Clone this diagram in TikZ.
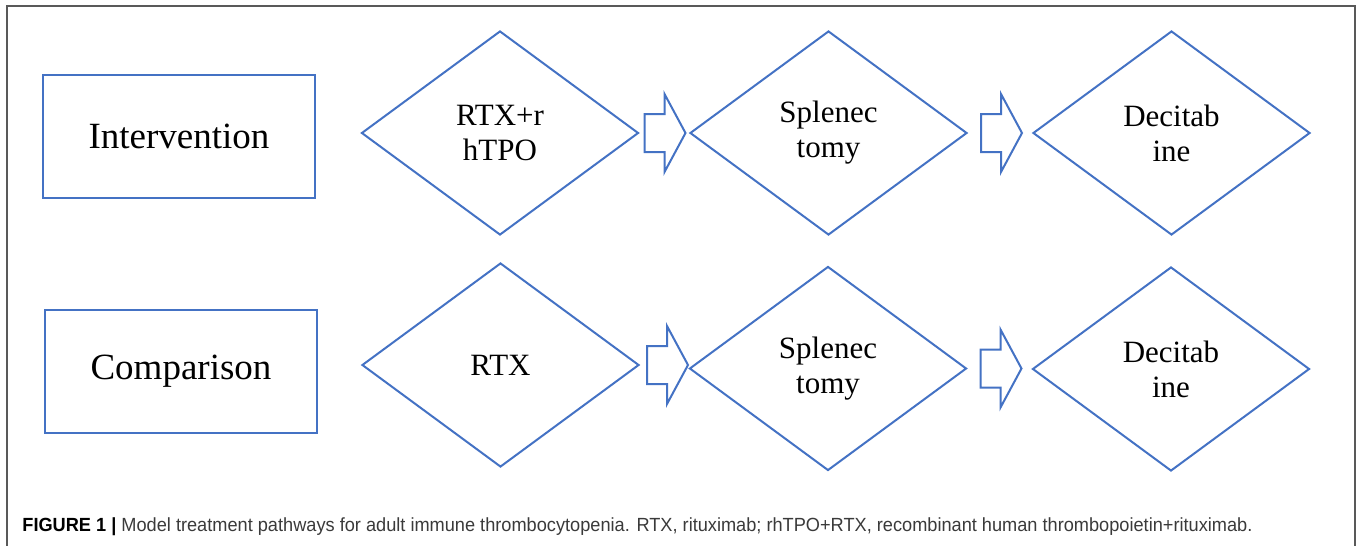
\documentclass[tikz,border=0pt]{standalone}
\usepackage{fontspec}
\setmainfont{Liberation Serif}
\newfontfamily\capfont{Liberation Sans}
\usetikzlibrary{shapes.geometric,calc}
\definecolor{boxblue}{HTML}{4472C4}
\definecolor{framegray}{HTML}{595959}
\definecolor{captext}{HTML}{3A3A3A}

\begin{document}
\begin{tikzpicture}[x=0.5pt,y=-0.5pt,
	group/.style={draw=boxblue,line width=1pt,minimum width=136pt,minimum height=61.5pt,inner sep=0pt,font=\fontsize{18.5pt}{22pt}\selectfont},
	stepnode/.style={diamond,draw=boxblue,line width=1pt,minimum width=138.5pt,minimum height=102pt,inner sep=0pt,align=center,font=\fontsize{15.5pt}{17.5pt}\selectfont},
	flow/.style={draw=boxblue,line width=1pt,line join=miter,fill=white}]
	\useasboundingbox (0,0) rectangle (1357,546);
	\draw[framegray,line width=0.75pt] (7,546) -- (7,6) -- (1355,6) -- (1355,546);
	% rows
	\node[group] (inter) at (179,136.5) {Intervention};
	\node[group] (comp) at (181,371.5) {Comparison};
	\node[stepnode] (i1) at (500,133) {RTX+r\\hTPO};
	\node[stepnode] (i2) at (828.5,133) {Splenec\\tomy};
	\node[stepnode] (i3) at (1171.5,133) {Decitab\\ine};
	\node[stepnode] (c1) at (500.5,365) {RTX};
	\node[stepnode] (c2) at (828,368.5) {Splenec\\tomy};
	\node[stepnode] (c3) at (1171,369) {Decitab\\ine};
	% block arrows
	\foreach \a/\o in {i1/5,i2/13,c1/7,c2/13}
	{
		\draw[flow] ($(\a.east)+(\o,-19)$) -- ++(20,0) -- ++(0,-20) -- ++(21,39) -- ++(-21,39) -- ++(0,-20) -- ++(-20,0) -- cycle;
	}
	\node[anchor=base west,inner sep=0pt,text=captext] (cap) at (22,531) {\resizebox{615pt}{6.9pt}{\capfont\textcolor{black}{\textbf{FIGURE 1 |}} Model treatment pathways for adult immune thrombocytopenia. RTX, rituximab; rhTPO+RTX, recombinant human thrombopoietin+rituximab.}};
\end{tikzpicture}
\end{document}
